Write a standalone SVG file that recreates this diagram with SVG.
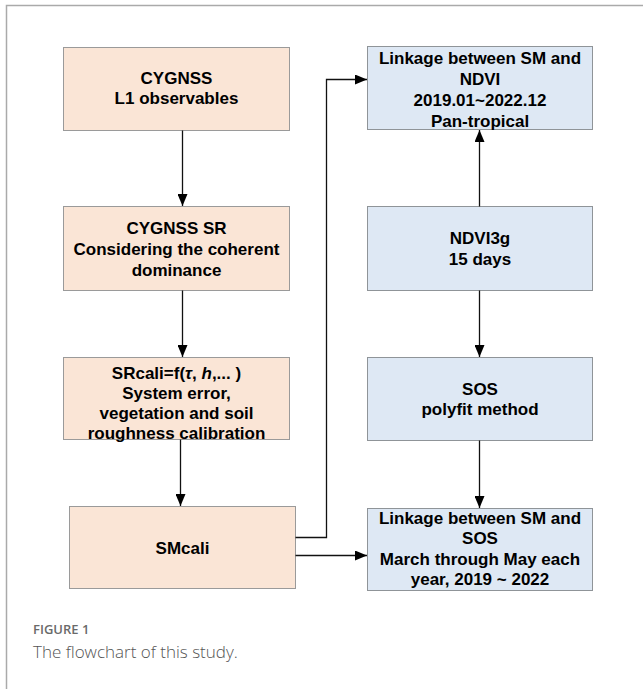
<svg xmlns="http://www.w3.org/2000/svg" width="643" height="689" viewBox="0 0 643 689">
<defs>
<style>
.peach{fill:#FAE5D6;stroke:#9a9a9a;stroke-width:1}
.blue{fill:#DEE8F4;stroke:#8f9498;stroke-width:1}
.t{font-family:"Liberation Sans",Arial,sans-serif;font-weight:bold;font-size:17px;fill:#000;text-anchor:middle;dominant-baseline:central}
.c{fill:none;stroke:#111;stroke-width:1.3}
</style>
<marker id="ah" viewBox="0 0 12 10" refX="12" refY="5" markerWidth="12" markerHeight="10" markerUnits="userSpaceOnUse" orient="auto">
<path d="M0,0 L12,5 L0,10 Z" fill="#000"/>
</marker>
</defs>
<rect x="0" y="0" width="643" height="689" fill="#fff"/>
<path d="M6.5,689 V5.5 H643" fill="none" stroke="#aaa" stroke-width="1.5"/>
<g id="n1"><rect class="peach" x="63.5" y="47.5" width="226" height="83"/>
<text class="t" x="176.5" y="78">CYGNSS</text><text class="t" x="176.5" y="98">L1 observables</text></g>
<g id="n2"><rect class="peach" x="63.5" y="206.5" width="226" height="84"/>
<text class="t" x="176.5" y="228">CYGNSS SR</text><text class="t" x="176.5" y="249">Considering the coherent</text><text class="t" x="176.5" y="270">dominance</text></g>
<g id="n3"><rect class="peach" x="63.5" y="357.5" width="226" height="82"/>
<text class="t" x="176.5" y="373">SRcali=f(<tspan font-style="italic">τ</tspan>, <tspan font-style="italic">h</tspan>,... )</text><text class="t" x="176.5" y="393">System error,</text><text class="t" x="176.5" y="413">vegetation and soil</text><text class="t" x="176.5" y="433">roughness calibration</text></g>
<g id="n4"><rect class="peach" x="69.5" y="506.5" width="226" height="82"/>
<text class="t" x="182.5" y="548">SMcali</text></g>
<g id="n5"><rect class="blue" x="367.5" y="46.5" width="225" height="83"/>
<text class="t" x="480" y="58">Linkage between SM and</text><text class="t" x="480" y="79">NDVI</text><text class="t" x="480" y="100">2019.01~2022.12</text><text class="t" x="480" y="121">Pan-tropical</text></g>
<g id="n6"><rect class="blue" x="367.5" y="206.5" width="225" height="84"/>
<text class="t" x="480" y="238">NDVI3g</text><text class="t" x="480" y="259">15 days</text></g>
<g id="n7"><rect class="blue" x="367.5" y="357.5" width="225" height="83"/>
<text class="t" x="480" y="389">SOS</text><text class="t" x="480" y="409">polyfit method</text></g>
<g id="n8"><rect class="blue" x="367.5" y="508.5" width="225" height="82"/>
<text class="t" x="480" y="518">Linkage between SM and</text><text class="t" x="480" y="538">SOS</text><text class="t" x="480" y="559">March through May each</text><text class="t" x="480" y="579">year, 2019 ~ 2022</text></g>
<g id="connectors">
<path class="c" d="M182.5,130.5 V206" marker-end="url(#ah)"/>
<path class="c" d="M182.5,290.5 V357" marker-end="url(#ah)"/>
<path class="c" d="M180.5,439.5 V506" marker-end="url(#ah)"/>
<path class="c" d="M479.5,206.5 V130" marker-end="url(#ah)"/>
<path class="c" d="M479.5,290.5 V357" marker-end="url(#ah)"/>
<path class="c" d="M479.5,440.5 V508" marker-end="url(#ah)"/>
<path class="c" d="M295.5,537.5 H326.5 V79.5 H367" marker-end="url(#ah)"/>
<path class="c" d="M295.5,555.5 H367" marker-end="url(#ah)"/>
</g>
<text x="33" y="634" font-family="'Open Sans',sans-serif" font-size="13" font-weight="600" fill="#6a6a6a">FIGURE 1</text>
<text x="33" y="658" font-family="'Open Sans',sans-serif" font-size="17" font-weight="300" fill="#555">The flowchart of this study.</text>
</svg>
